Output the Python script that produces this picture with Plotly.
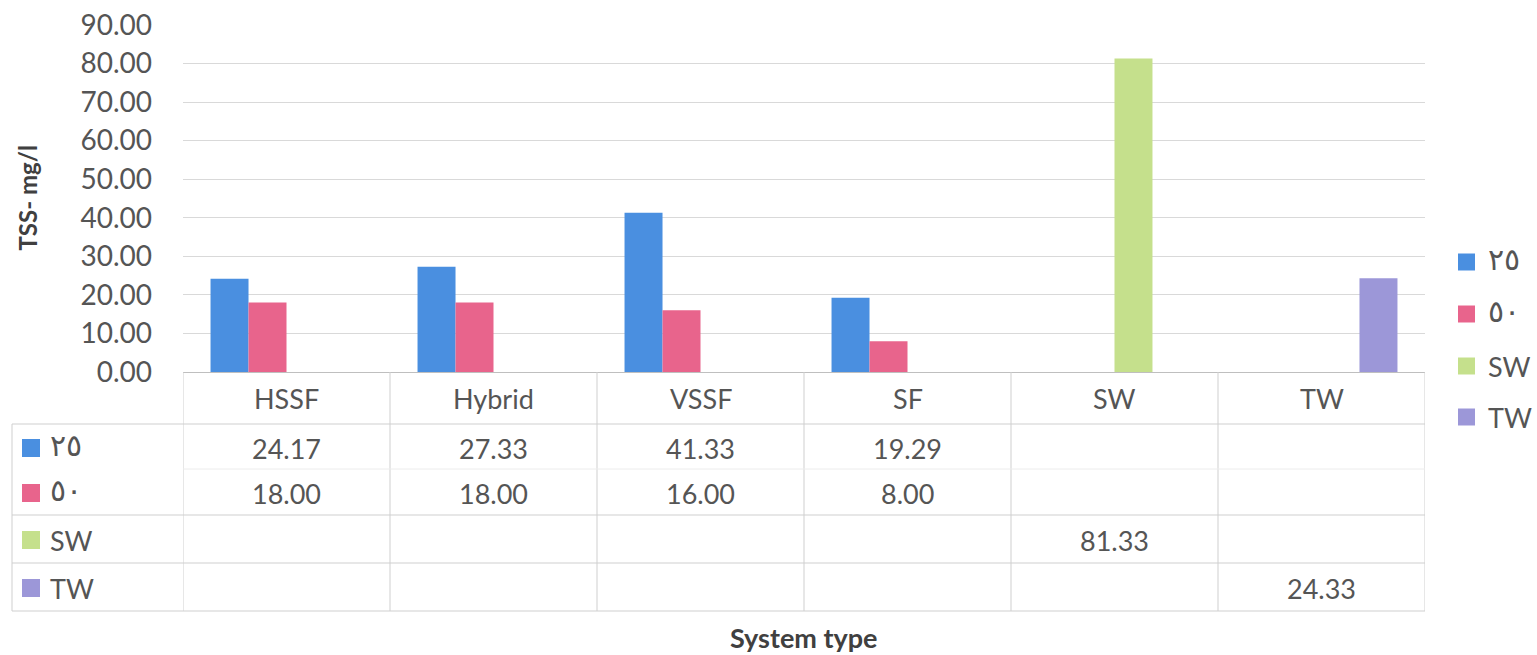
import plotly.graph_objects as go

# ---- data ----
categories = ["HSSF", "Hybrid", "VSSF", "SF", "SW", "TW"]
series_names = ["٢٥", "٥٠", "SW", "TW"]
vals_25 = [24.17, 27.33, 41.33, 19.29, None, None]
vals_50 = [18.00, 18.00, 16.00, 8.00, None, None]
vals_sw = [None, None, None, None, 81.33, None]
vals_tw = [None, None, None, None, None, 24.33]
y_ticks = [0, 10, 20, 30, 40, 50, 60, 70, 80, 90]

series_values = [vals_25, vals_50, vals_sw, vals_tw]
colors = ["#4A8FE0", "#E8648C", "#C5E08C", "#9C97D8"]

W, H = 1537, 655
FONT = "Lato, DejaVu Sans, sans-serif"
TEXT = "#555555"
GRID = "#d9d9d9"
TABLE_LINE = "#cfcfcf"


def px(x):
    return x / W


def py(y):
    return 1 - y / H


# layout geometry (pixels)
plot_left, plot_right = 183, 1425
plot_top, plot_bottom = 25, 372
table_left = 12
row_lines = [424, 469, 515, 563, 611]
header_y = 398
row_centers = [448, 493, 540, 588]
legend_y = [262, 314, 366, 417]

fig = go.Figure()
for name, vals, col in zip(series_names, series_values, colors):
    fig.add_trace(go.Bar(x=categories, y=vals, name=name, marker_color=col,
                         marker_line_width=0, showlegend=False))

shapes = []
annotations = []

# data table: vertical lines at category boundaries
for i in range(len(categories) + 1):
    shapes.append(dict(type="line", xref="x", yref="paper",
                       x0=i - 0.5, x1=i - 0.5, y0=py(plot_bottom), y1=py(row_lines[-1]),
                       line=dict(color=TABLE_LINE, width=1)))
# left edge of the key column
shapes.append(dict(type="line", xref="paper", yref="paper",
                   x0=px(table_left), x1=px(table_left), y0=py(row_lines[0]), y1=py(row_lines[-1]),
                   line=dict(color=TABLE_LINE, width=1)))
# horizontal table lines
for k, yl in enumerate(row_lines):
    faint = k == 1
    shapes.append(dict(type="line", xref="paper", yref="paper",
                       x0=px(plot_left if faint else table_left), x1=px(plot_right),
                       y0=py(yl), y1=py(yl),
                       line=dict(color="#ececec" if faint else TABLE_LINE, width=1)))

# header row: category names
for c in categories:
    annotations.append(dict(x=c, xref="x", y=py(header_y), yref="paper",
                            text=c, showarrow=False, xanchor="center", yanchor="middle",
                            font=dict(family=FONT, size=27, color=TEXT)))

# table rows: key swatch, series name, values
for r, (name, vals, col) in enumerate(zip(series_names, series_values, colors)):
    yc = row_centers[r]
    shapes.append(dict(type="rect", xref="paper", yref="paper",
                       x0=px(22), x1=px(40), y0=py(yc + 9), y1=py(yc - 9),
                       fillcolor=col, line=dict(width=0)))
    arabic = name not in ("SW", "TW")
    annotations.append(dict(x=px(48), xref="paper", y=py(yc - (4 if arabic else 0)), yref="paper",
                            text=name, showarrow=False, xanchor="left", yanchor="middle",
                            font=dict(family=FONT, size=30 if arabic else 27, color=TEXT)))
    for c, v in zip(categories, vals):
        if v is None:
            continue
        annotations.append(dict(x=c, xref="x", y=py(yc), yref="paper",
                                text=f"{v:.2f}", showarrow=False,
                                xanchor="center", yanchor="middle",
                                font=dict(family=FONT, size=27, color=TEXT)))

# legend on the right
for name, col, yc in zip(series_names, colors, legend_y):
    shapes.append(dict(type="rect", xref="paper", yref="paper",
                       x0=px(1458), x1=px(1475), y0=py(yc + 8.5), y1=py(yc - 8.5),
                       fillcolor=col, line=dict(width=0)))
    arabic = name not in ("SW", "TW")
    annotations.append(dict(x=px(1486), xref="paper", y=py(yc - (4 if arabic else 0)), yref="paper",
                            text=name, showarrow=False, xanchor="left", yanchor="middle",
                            font=dict(family=FONT, size=30 if arabic else 27, color=TEXT)))

# axis titles
annotations.append(dict(x=px(27), xref="paper", y=py((plot_top + plot_bottom) / 2), yref="paper",
                        text="<b>TSS- mg/l</b>", textangle=-90, showarrow=False,
                        xanchor="center", yanchor="middle",
                        font=dict(family=FONT, size=24, color="#404040")))
annotations.append(dict(x=px((plot_left + plot_right) / 2), xref="paper", y=py(637), yref="paper",
                        text="<b>System type</b>", showarrow=False,
                        xanchor="center", yanchor="middle",
                        font=dict(family=FONT, size=27, color="#404040")))

fig.update_layout(
    width=W, height=H,
    margin=dict(l=0, r=0, t=0, b=0, autoexpand=False),
    paper_bgcolor="white", plot_bgcolor="white",
    barmode="group", bargap=0.266, bargroupgap=0,
    shapes=shapes, annotations=annotations,
    xaxis=dict(domain=[px(plot_left), px(plot_right)], range=[-0.5, 5.5],
               showticklabels=False, showgrid=False, zeroline=False,
               showline=True, linecolor="#bfbfbf", linewidth=1, ticks="",
               anchor="y", automargin=False),
    yaxis=dict(domain=[py(plot_bottom), py(plot_top)], range=[0, 90],
               tickvals=y_ticks, tickformat=".2f",
               tickfont=dict(family=FONT, size=28, color=TEXT),
               ticklabelstandoff=30, automargin=False,
               showgrid=True, gridcolor=GRID, gridwidth=1, zeroline=False,
               showline=False, ticks=""),
)

fig.write_html("out.html")
